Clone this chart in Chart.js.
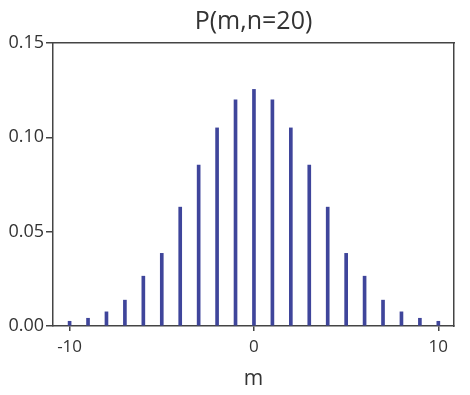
<!DOCTYPE html>
<html>
<head>
<meta charset="utf-8">
<script src="https://cdn.jsdelivr.net/npm/chart.js@4"></script>
<style>
  html, body { margin: 0; padding: 0; background: #fff; }
  #wrap { width: 470px; height: 395px; }
</style>
</head>
<body>
<div id="wrap"><canvas id="chart"></canvas></div>
<script>
// displacement m and probability P(m, n=20)
const mValues = [-10, -9, -8, -7, -6, -5, -4, -3, -2, -1, 0, 1, 2, 3, 4, 5, 6, 7, 8, 9, 10];
const pValues = [0.0025, 0.0041, 0.0075, 0.0137, 0.0264, 0.0385, 0.063, 0.0853, 0.105, 0.1199,
                 0.1254, 0.1199, 0.105, 0.0853, 0.063, 0.0385, 0.0264, 0.0137, 0.0075, 0.0041, 0.0025];
const xTicks = [-10, 0, 10];
const yTicks = [0, 0.05, 0.10, 0.15];

const textColor = '#333';
const axisColor = '#444';
const barColor = '#3f459b';
const fontFamily = '"Open Sans", sans-serif';

const points = mValues.map((m, i) => ({ x: m, y: pValues[i] }));

function fixTicks(list) {
    return scale => { scale.ticks = list.map(v => ({ value: v })); };
}

new Chart(document.getElementById('chart'), {
    type: 'bar',
    data: {
        datasets: [{
            data: points,
            backgroundColor: barColor,
            borderWidth: 0,
            barThickness: 3,
        }]
    },
    options: {
        responsive: true,
        maintainAspectRatio: false,
        animation: false,
        layout: { padding: { left: 0, right: 16, top: 0, bottom: 0 } },
        plugins: {
            legend: { display: false },
            tooltip: { enabled: false },
        },
        scales: {
            x: {
                type: 'linear',
                position: 'bottom',
                min: -10.9,
                max: 10.85,
                offset: false,
                afterBuildTicks: fixTicks(xTicks),
                afterFit: scale => { scale.height = 69; },
                grid: { display: true, offset: false, drawOnChartArea: false, drawTicks: true, tickLength: 5, color: axisColor, lineWidth: 1.5 },
                border: { display: true, color: axisColor, width: 1.5 },
                ticks: {
                    color: textColor,
                    font: { family: fontFamily, size: 17 },
                    padding: 6,
                    maxRotation: 0,
                    callback: v => String(v),
                },
                title: {
                    display: true,
                    text: 'm',
                    color: textColor,
                    font: { family: fontFamily, size: 21 },
                    padding: { top: 0, bottom: 3 },
                },
            },
            y: {
                type: 'linear',
                position: 'left',
                min: 0,
                max: 0.15,
                afterBuildTicks: fixTicks(yTicks),
                afterFit: scale => { scale.width = 53; },
                grid: { display: true, offset: false, drawOnChartArea: false, drawTicks: true, tickLength: 7, color: axisColor, lineWidth: 1.5 },
                border: { display: true, color: axisColor, width: 1.5 },
                ticks: {
                    color: textColor,
                    font: { family: fontFamily, size: 18 },
                    padding: 2,
                    callback: v => v.toFixed(2),
                },
            },
            // top edge of the frame, carrying the chart title centred over the plot
            xTop: {
                type: 'linear',
                position: 'top',
                min: -10.9,
                max: 10.85,
                afterFit: scale => { scale.height = 43; },
                grid: { display: false },
                ticks: { display: false },
                border: { display: true, color: axisColor, width: 1.5 },
                title: {
                    display: true,
                    text: 'P(m,n=20)',
                    color: textColor,
                    font: { family: fontFamily, size: 25 },
                    padding: { top: 7, bottom: 0 },
                },
            },
            yRight: {
                type: 'linear',
                position: 'right',
                min: 0,
                max: 0.15,
                afterFit: scale => { scale.width = 0; },
                grid: { display: false },
                ticks: { display: false },
                border: { display: true, color: axisColor, width: 1.5 },
            },
        },
    },
});
</script>
</body>
</html>
